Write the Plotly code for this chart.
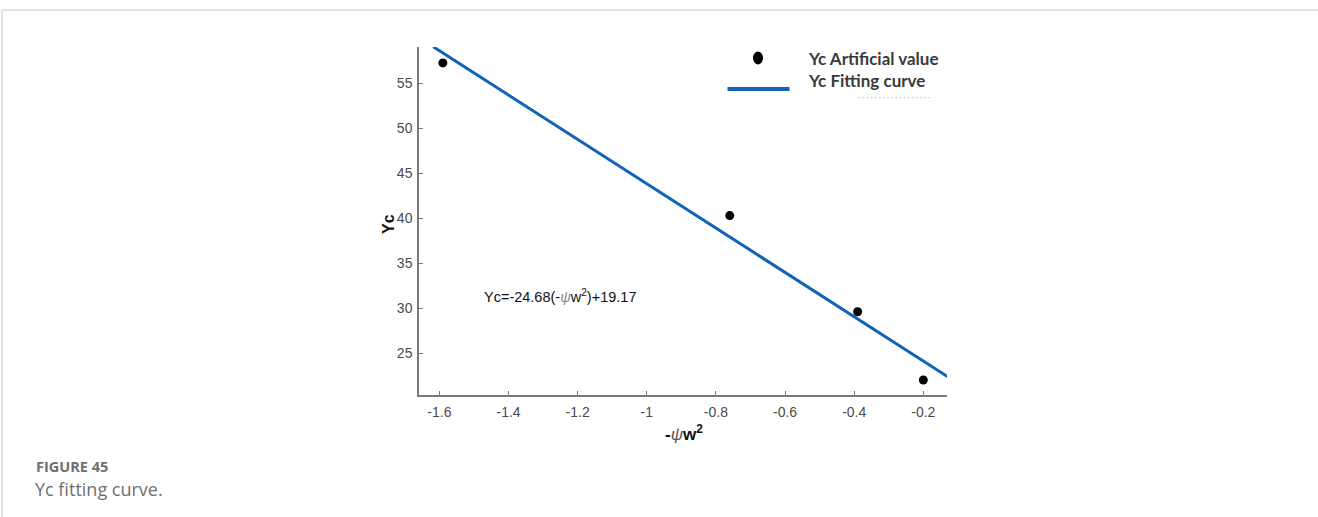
import numpy as np
import plotly.graph_objects as go

# Measured points: -psi/w^2 against Yc
psi_w2 = [-1.59, -0.76, -0.39, -0.20]
yc_artificial = [57.3, 40.3, 29.6, 22.0]

# Linear fit Yc = slope * (-psi w^2) + intercept
fit_slope = -24.68
fit_intercept = 19.17
fit_x_span = [-1.618, -0.128]

x_ticks = [-1.6, -1.4, -1.2, -1.0, -0.8, -0.6, -0.4, -0.2]
x_tick_text = ["-1.6", "-1.4", "-1.2", "-1", "-0.8", "-0.6", "-0.4", "-0.2"]
y_ticks = [25, 30, 35, 40, 45, 50, 55]
y_tick_text = ["25", "30", "35", "40", "45", "50", "55"]

W, H = 1318, 517
PL, PR, PT, PB = 419, 947, 47, 395  # plot area in pixels


def px(x):
    return (x - PL) / (PR - PL)


def py(y):
    return (PB - y) / (PB - PT)


fit_x = np.linspace(fit_x_span[0], fit_x_span[1], 50)
fit_y = fit_slope * fit_x + fit_intercept

axis_grey = "#7a7a7a"
line_blue = "#1462b8"

fig = go.Figure()
fig.add_trace(go.Scatter(
    x=fit_x, y=fit_y, mode="lines",
    line=dict(color=line_blue, width=3),
    name="Yc Fitting curve", showlegend=False, hoverinfo="skip",
))
fig.add_trace(go.Scatter(
    x=psi_w2, y=yc_artificial, mode="markers",
    marker=dict(color="black", size=9),
    name="Yc Artificial value", showlegend=False,
))

tick_font = dict(family="Liberation Sans, Arial, sans-serif", size=14, color="#4a4a4a")

fig.update_xaxes(
    range=[-1.659, -0.1315], tickvals=x_ticks, ticktext=x_tick_text,
    showline=True, linecolor=axis_grey, linewidth=1.5, mirror=False,
    ticks="inside", ticklen=4, tickwidth=1.2, tickcolor=axis_grey,
    showgrid=False, zeroline=False, tickfont=tick_font, ticklabelstandoff=3,
)
fig.update_yaxes(
    range=[20.33, 59.07], tickvals=y_ticks, ticktext=y_tick_text,
    showline=True, linecolor=axis_grey, linewidth=1.5, mirror=False,
    ticks="inside", ticklen=4, tickwidth=1.2, tickcolor=axis_grey,
    showgrid=False, zeroline=False, tickfont=tick_font, ticklabelstandoff=2,
)

shapes = [
    # page frame
    dict(type="line", xref="paper", yref="paper", x0=px(2), x1=px(1318), y0=py(10), y1=py(10),
         line=dict(color="#c4c4c4", width=1)),
    dict(type="line", xref="paper", yref="paper", x0=px(2), x1=px(2), y0=py(10), y1=py(517),
         line=dict(color="#c4c4c4", width=1)),
    # legend glyphs
    dict(type="circle", xref="paper", yref="paper", x0=px(753), x1=px(763), y0=py(64.5), y1=py(51.5),
         fillcolor="black", line=dict(color="black", width=0)),
    dict(type="line", xref="paper", yref="paper", x0=px(727.5), x1=px(789.5), y0=py(89), y1=py(89),
         line=dict(color=line_blue, width=4)),
]

legend_font = dict(family="Lato, Carlito, sans-serif", size=17, color="#3a3a3a")
annotations = [
    dict(xref="paper", yref="paper", x=px(806), y=py(58), xanchor="left", yanchor="middle",
         text="<b>Yc Artificial value</b>", showarrow=False, font=legend_font),
    dict(xref="paper", yref="paper", x=px(806), y=py(80), xanchor="left", yanchor="middle",
         text="<b>Yc Fitting curve</b>", showarrow=False, font=legend_font),
    dict(xref="paper", yref="paper", x=px(856), y=py(97), xanchor="left", yanchor="middle",
         text="· · · · · · · · · · · · · · · · · ·", showarrow=False,
         font=dict(family="Lato, sans-serif", size=8, color="#b0b0b0")),
    # fit equation
    dict(xref="x", yref="y", x=-1.4775, y=31.3, xanchor="left", yanchor="middle",
         text="Yc=-24.68(-<span style='color:#888'><i>ψ</i></span>w<sup>2</sup>)+19.17",
         showarrow=False, font=dict(family="Liberation Sans, Arial, sans-serif", size=14.5, color="#111")),
    # axis titles
    dict(xref="paper", yref="paper", x=px(388), y=py(224), xanchor="center", yanchor="middle",
         text="<b>Yc</b>", textangle=-90, showarrow=False,
         font=dict(family="Liberation Sans, Arial, sans-serif", size=16, color="#111")),
    dict(xref="paper", yref="paper", x=px(684), y=py(433), xanchor="center", yanchor="middle",
         text="<b>-</b><span style='color:#555'><i>ψ</i></span><b>w<sup>2</sup></b>", showarrow=False,
         font=dict(family="Liberation Sans, Arial, sans-serif", size=17, color="#111")),
    # caption
    dict(xref="paper", yref="paper", x=px(34), y=py(466.5), xanchor="left", yanchor="middle",
         text="<b>FIGURE 45</b>", showarrow=False,
         font=dict(family="Open Sans, sans-serif", size=14.5, color="#707070")),
    dict(xref="paper", yref="paper", x=px(33), y=py(489), xanchor="left", yanchor="middle",
         text="Yc fitting curve.", showarrow=False,
         font=dict(family="Open Sans, sans-serif", size=18, color="#707070")),
]

fig.update_layout(
    width=W, height=H,
    margin=dict(l=PL, r=W - PR, t=PT, b=H - PB, pad=0),
    paper_bgcolor="white", plot_bgcolor="white",
    showlegend=False,
    shapes=shapes, annotations=annotations,
)

fig.write_html("out.html", config={"displayModeBar": False})
